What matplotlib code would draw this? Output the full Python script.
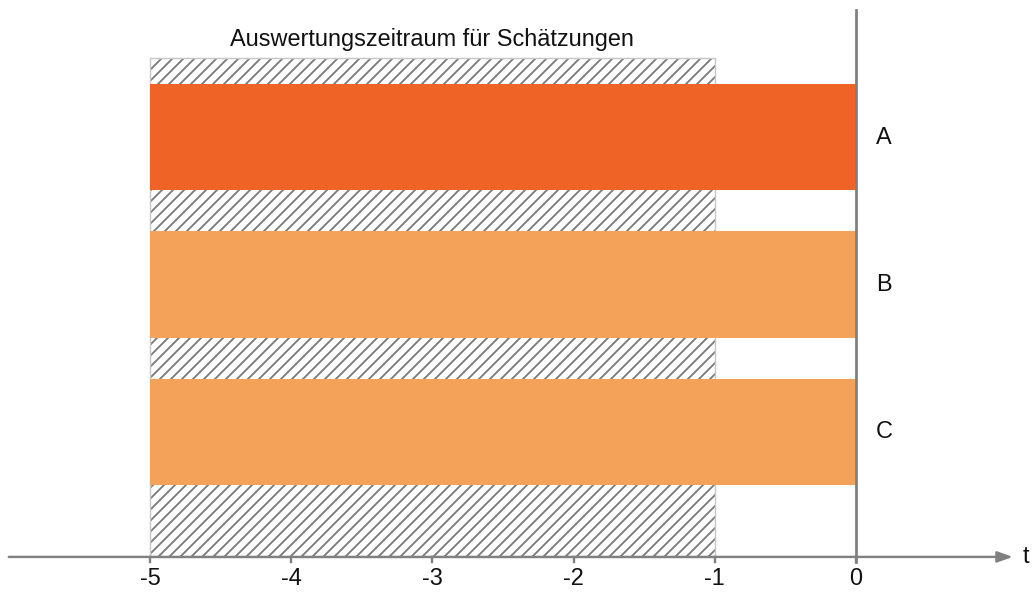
import numpy as np
import matplotlib

matplotlib.use("Agg")
import matplotlib.pyplot as plt

plt.rcParams["font.family"] = ["Liberation Sans", "DejaVu Sans"]
plt.rcParams["hatch.linewidth"] = 1.0

# data
labels = ["A", "B", "C"]
bar_start = [-5, -5, -5]
bar_end = [0, 0, 0]
bar_colors = ["#EF6426", "#F4A25A", "#F4A25A"]
window_start, window_end = -5, -1
ticks = [-5, -4, -3, -2, -1, 0]
title = "Auswertungszeitraum für Schätzungen"

DPI = 132
fig = plt.figure(figsize=(1032 / DPI, 596 / DPI), dpi=DPI)
ax = fig.add_axes([0, 0, 1, 1])
ax.set_xlim(-6.062, 1.246)
ax.set_ylim(3.112, -0.929)
ax.axis("off")

grey = "#808080"
txt = "#111111"
fs = 12.8
y_axis = 2.847
y_top = -0.861
ypos = np.arange(len(labels))

# hatched evaluation window
ax.bar(
    (window_start + window_end) / 2, y_axis + 0.536, width=window_end - window_start,
    bottom=-0.536, color="white", edgecolor="#7a7a7a", hatch="////", linewidth=0, zorder=1,
)
ax.bar(
    (window_start + window_end) / 2, y_axis + 0.536, width=window_end - window_start,
    bottom=-0.536, fill=False, edgecolor="#c8c8c8", linewidth=0.8, zorder=1,
)

# bars
widths = np.array(bar_end) - np.array(bar_start)
ax.barh(ypos, widths, left=bar_start, height=0.72, color=bar_colors, zorder=2)
for y, lab in zip(ypos, labels):
    ax.text(0.14, y, lab, ha="left", va="center", fontsize=fs, color=txt)

# vertical zero line
ax.plot([0, 0], [y_top, y_axis + 0.035], color=grey, lw=1.5, zorder=3)

# time axis with arrow
ax.annotate(
    "", xy=(1.11, y_axis), xytext=(-6.0, y_axis),
    arrowprops=dict(arrowstyle="-|>,head_length=0.7,head_width=0.25", color=grey, lw=1.3,
                    shrinkA=0, shrinkB=0),
    zorder=3,
)
ax.text(1.18, y_axis, "t", ha="left", va="center", fontsize=fs, color=txt)

for t in ticks:
    ax.plot([t, t], [y_axis, y_axis + 0.035], color=grey, lw=1.3, zorder=3)
    ax.text(t, 2.99, f"{t}", ha="center", va="center", fontsize=fs, color=txt)

ax.text((window_start + window_end) / 2, -0.658, title, ha="center", va="center",
        fontsize=fs, color=txt)

fig.savefig("out.png", dpi=DPI)
plt.close(fig)
